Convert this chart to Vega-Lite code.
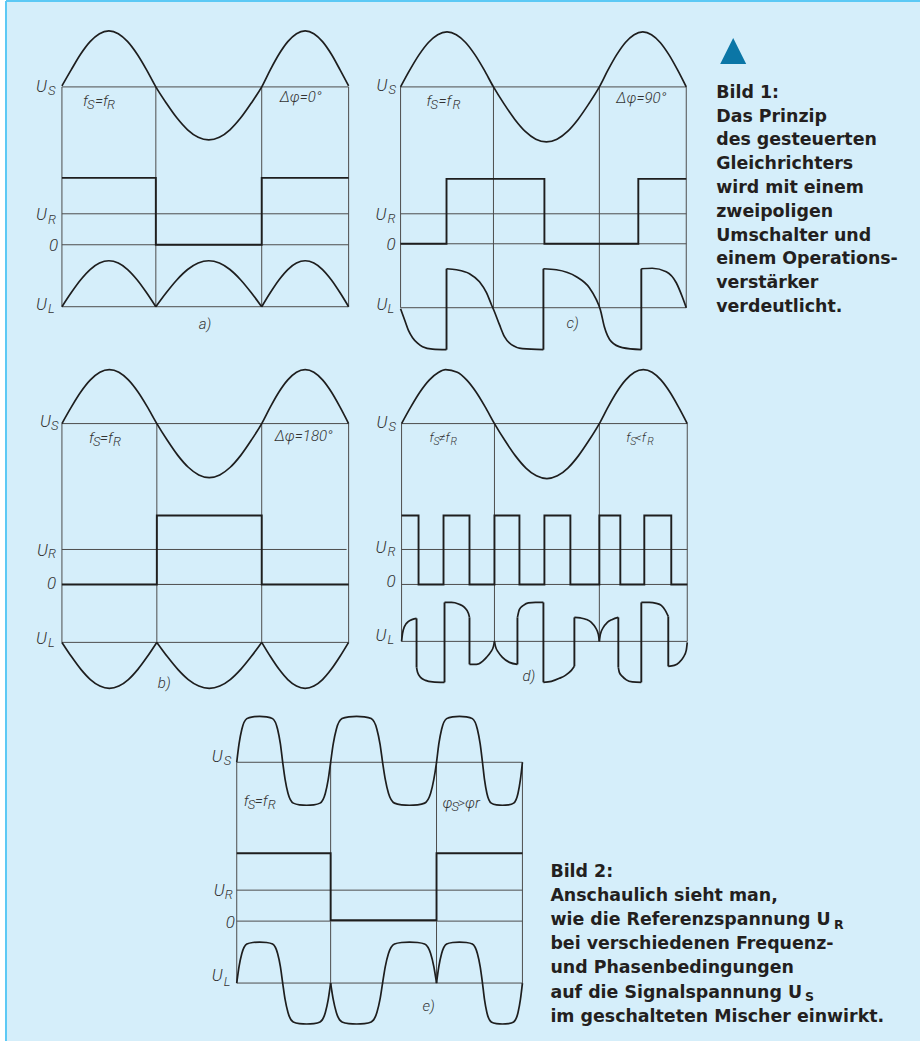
{
"$schema":"https://vega.github.io/schema/vega-lite/v6.json",
"width":921,"height":1042,"padding":0,
"autosize":{"type":"fit","contains":"padding"},
"background":"#ffffff",
"config":{"view":{"stroke":null}},
"datasets":{
"bg":[{"x":6,"y":1,"x2":921,"y2":1042}],
"border":[{"x":6,"y":1,"x2":921,"y2":1},{"x":6,"y":1,"x2":6,"y2":1042}],
"marker":[{"x":734,"y":51}],
"grid":[
{"x":62,"y":87,"x2":62,"y2":307},{"x":156,"y":87,"x2":156,"y2":307},{"x":262,"y":87,"x2":262,"y2":307},{"x":349,"y":87,"x2":349,"y2":307},
{"x":62,"y":87,"x2":349,"y2":87},{"x":62,"y":214,"x2":349,"y2":214},{"x":62,"y":245,"x2":349,"y2":245},{"x":62,"y":307,"x2":349,"y2":307},
{"x":401,"y":87,"x2":401,"y2":308},{"x":494,"y":87,"x2":494,"y2":308},{"x":600,"y":87,"x2":600,"y2":308},{"x":687,"y":87,"x2":687,"y2":308},
{"x":401,"y":87,"x2":687,"y2":87},{"x":401,"y":214,"x2":687,"y2":214},{"x":401,"y":244,"x2":687,"y2":244},{"x":401,"y":308,"x2":687,"y2":308},
{"x":62,"y":424,"x2":62,"y2":643},{"x":157,"y":424,"x2":157,"y2":643},{"x":262,"y":424,"x2":262,"y2":643},{"x":349,"y":424,"x2":349,"y2":643},
{"x":62,"y":424,"x2":349,"y2":424},{"x":62,"y":550,"x2":347,"y2":550},{"x":62,"y":585,"x2":349,"y2":585},{"x":62,"y":643,"x2":349,"y2":643},
{"x":402,"y":424,"x2":402,"y2":642},{"x":495,"y":424,"x2":495,"y2":642},{"x":600,"y":424,"x2":600,"y2":642},{"x":688,"y":424,"x2":688,"y2":642},
{"x":402,"y":424,"x2":688,"y2":424},{"x":402,"y":550,"x2":688,"y2":550},{"x":402,"y":585,"x2":688,"y2":585},{"x":402,"y":642,"x2":688,"y2":642},
{"x":237,"y":763,"x2":237,"y2":984},{"x":331,"y":763,"x2":331,"y2":984},{"x":437,"y":763,"x2":437,"y2":984},{"x":523,"y":763,"x2":523,"y2":984},
{"x":237,"y":763,"x2":523,"y2":763},{"x":237,"y":891,"x2":523,"y2":891},{"x":237,"y":922,"x2":523,"y2":922},{"x":237,"y":984,"x2":523,"y2":984}
],
"straight":[
{"k":"aR","x":62,"y":178},{"k":"aR","x":156,"y":178},{"k":"aR","x":156,"y":245},{"k":"aR","x":262,"y":245},{"k":"aR","x":262,"y":178},{"k":"aR","x":349,"y":178},
{"k":"cR","x":401,"y":244},{"k":"cR","x":447,"y":244},{"k":"cR","x":447,"y":179},{"k":"cR","x":545,"y":179},{"k":"cR","x":545,"y":244},{"k":"cR","x":639,"y":244},{"k":"cR","x":639,"y":179},{"k":"cR","x":687,"y":179},
{"k":"cV1","x":447,"y":350},{"k":"cV1","x":447,"y":269},
{"k":"cV2","x":544,"y":350},{"k":"cV2","x":544,"y":269},
{"k":"cV3","x":642,"y":350},{"k":"cV3","x":642,"y":269},
{"k":"bR","x":62,"y":585},{"k":"bR","x":157,"y":585},{"k":"bR","x":157,"y":516},{"k":"bR","x":262,"y":516},{"k":"bR","x":262,"y":585},{"k":"bR","x":349,"y":585},
{"k":"dR","x":402,"y":516},{"k":"dR","x":419,"y":516},{"k":"dR","x":419,"y":585},{"k":"dR","x":444,"y":585},{"k":"dR","x":444,"y":516},{"k":"dR","x":470,"y":516},{"k":"dR","x":470,"y":585},{"k":"dR","x":495,"y":585},{"k":"dR","x":495,"y":516},{"k":"dR","x":520,"y":516},{"k":"dR","x":520,"y":585},{"k":"dR","x":545,"y":585},{"k":"dR","x":545,"y":516},{"k":"dR","x":571,"y":516},{"k":"dR","x":571,"y":585},{"k":"dR","x":600,"y":585},{"k":"dR","x":600,"y":516},{"k":"dR","x":621,"y":516},{"k":"dR","x":621,"y":585},{"k":"dR","x":645,"y":585},{"k":"dR","x":645,"y":516},{"k":"dR","x":672,"y":516},{"k":"dR","x":672,"y":585},{"k":"dR","x":688,"y":585},
{"k":"dV1","x":417,"y":619},{"k":"dV1","x":417,"y":668},
{"k":"dV2","x":445,"y":683},{"k":"dV2","x":445,"y":603},
{"k":"dV3","x":470,"y":618},{"k":"dV3","x":470,"y":665},
{"k":"dV4","x":518,"y":665},{"k":"dV4","x":518,"y":618},
{"k":"dV5","x":544,"y":603},{"k":"dV5","x":544,"y":683},
{"k":"dV6","x":575,"y":667},{"k":"dV6","x":575,"y":618},
{"k":"dV7","x":619,"y":618},{"k":"dV7","x":619,"y":668},
{"k":"dV8","x":642,"y":683},{"k":"dV8","x":642,"y":603},
{"k":"dV9","x":669,"y":617},{"k":"dV9","x":669,"y":667},
{"k":"eR","x":237,"y":854},{"k":"eR","x":331,"y":854},{"k":"eR","x":331,"y":921},{"k":"eR","x":437,"y":921},{"k":"eR","x":437,"y":854},{"k":"eR","x":523,"y":854}
],
"smooth":[
{"k":"aS","x":62,"y":86},{"k":"aS","x":71.4,"y":69.7},{"k":"aS","x":80.8,"y":54.1},{"k":"aS","x":90.2,"y":41.7},{"k":"aS","x":99.6,"y":33.7},{"k":"aS","x":109,"y":31},{"k":"aS","x":118.4,"y":33.7},{"k":"aS","x":127.8,"y":41.7},{"k":"aS","x":137.2,"y":54.1},{"k":"aS","x":146.6,"y":69.7},{"k":"aS","x":156,"y":87},
{"k":"aS","x":166.6,"y":103.4},{"k":"aS","x":177.2,"y":118.2},{"k":"aS","x":187.8,"y":129.9},{"k":"aS","x":198.4,"y":137.4},{"k":"aS","x":209,"y":140},{"k":"aS","x":219.6,"y":137.4},{"k":"aS","x":230.2,"y":129.9},{"k":"aS","x":240.8,"y":118.2},{"k":"aS","x":251.4,"y":103.4},{"k":"aS","x":262,"y":87},
{"k":"aS","x":270.7,"y":69.7},{"k":"aS","x":279.4,"y":54.1},{"k":"aS","x":288.1,"y":41.7},{"k":"aS","x":296.8,"y":33.7},{"k":"aS","x":305.5,"y":31},{"k":"aS","x":314.2,"y":33.7},{"k":"aS","x":322.9,"y":41.7},{"k":"aS","x":331.6,"y":54.1},{"k":"aS","x":340.3,"y":69.7},{"k":"aS","x":349,"y":86},
{"k":"aL1","x":62,"y":307},{"k":"aL1","x":71.4,"y":292.8},{"k":"aL1","x":80.8,"y":280},{"k":"aL1","x":90.2,"y":269.8},{"k":"aL1","x":99.6,"y":263.3},{"k":"aL1","x":109,"y":261},{"k":"aL1","x":118.4,"y":263.3},{"k":"aL1","x":127.8,"y":269.8},{"k":"aL1","x":137.2,"y":280},{"k":"aL1","x":146.6,"y":292.8},{"k":"aL1","x":156,"y":307},
{"k":"aL2","x":156,"y":307},{"k":"aL2","x":166.6,"y":292.8},{"k":"aL2","x":177.2,"y":280},{"k":"aL2","x":187.8,"y":269.8},{"k":"aL2","x":198.4,"y":263.3},{"k":"aL2","x":209,"y":261},{"k":"aL2","x":219.6,"y":263.3},{"k":"aL2","x":230.2,"y":269.8},{"k":"aL2","x":240.8,"y":280},{"k":"aL2","x":251.4,"y":292.8},{"k":"aL2","x":262,"y":307},
{"k":"aL3","x":262,"y":307},{"k":"aL3","x":270.7,"y":292.8},{"k":"aL3","x":279.4,"y":280},{"k":"aL3","x":288.1,"y":269.8},{"k":"aL3","x":296.8,"y":263.3},{"k":"aL3","x":305.5,"y":261},{"k":"aL3","x":314.2,"y":263.3},{"k":"aL3","x":322.9,"y":269.8},{"k":"aL3","x":331.6,"y":280},{"k":"aL3","x":340.3,"y":292.8},{"k":"aL3","x":349,"y":307},
{"k":"cS","x":401,"y":87},{"k":"cS","x":410.3,"y":70},{"k":"cS","x":419.6,"y":54.7},{"k":"cS","x":428.9,"y":42.5},{"k":"cS","x":438.2,"y":34.7},{"k":"cS","x":447.5,"y":32},{"k":"cS","x":456.8,"y":34.7},{"k":"cS","x":466.1,"y":42.5},{"k":"cS","x":475.4,"y":54.7},{"k":"cS","x":484.7,"y":70},{"k":"cS","x":494,"y":87},
{"k":"cS","x":504.6,"y":104},{"k":"cS","x":515.2,"y":119.3},{"k":"cS","x":525.8,"y":131.5},{"k":"cS","x":536.4,"y":139.3},{"k":"cS","x":547,"y":142},{"k":"cS","x":557.6,"y":139.3},{"k":"cS","x":568.2,"y":131.5},{"k":"cS","x":578.8,"y":119.3},{"k":"cS","x":589.4,"y":104},{"k":"cS","x":600,"y":87},
{"k":"cS","x":608.7,"y":70},{"k":"cS","x":617.4,"y":54.7},{"k":"cS","x":626.1,"y":42.5},{"k":"cS","x":634.8,"y":34.7},{"k":"cS","x":643.5,"y":32},{"k":"cS","x":652.2,"y":34.7},{"k":"cS","x":660.9,"y":42.5},{"k":"cS","x":669.6,"y":54.7},{"k":"cS","x":678.3,"y":70},{"k":"cS","x":687,"y":87},
{"k":"cL1","x":401,"y":309},{"k":"cL1","x":405,"y":320},{"k":"cL1","x":409,"y":331},{"k":"cL1","x":413,"y":338},{"k":"cL1","x":418,"y":343.5},{"k":"cL1","x":423,"y":347},{"k":"cL1","x":433,"y":349.5},{"k":"cL1","x":447,"y":350},
{"k":"cL2","x":447,"y":269},{"k":"cL2","x":457,"y":270},{"k":"cL2","x":470,"y":274},{"k":"cL2","x":480,"y":282},{"k":"cL2","x":487,"y":293},{"k":"cL2","x":492,"y":305},{"k":"cL2","x":495,"y":312},{"k":"cL2","x":500,"y":325},{"k":"cL2","x":505,"y":337},{"k":"cL2","x":512,"y":345},{"k":"cL2","x":523,"y":349},{"k":"cL2","x":544,"y":350},
{"k":"cL3","x":544,"y":269},{"k":"cL3","x":557,"y":270},{"k":"cL3","x":577,"y":277},{"k":"cL3","x":590,"y":288},{"k":"cL3","x":597,"y":300},{"k":"cL3","x":601,"y":310},{"k":"cL3","x":605,"y":327},{"k":"cL3","x":612,"y":342},{"k":"cL3","x":623,"y":348},{"k":"cL3","x":642,"y":350},
{"k":"cL4","x":642,"y":269},{"k":"cL4","x":653,"y":268.5},{"k":"cL4","x":667,"y":272},{"k":"cL4","x":677,"y":283},{"k":"cL4","x":683,"y":297},{"k":"cL4","x":687,"y":308},
{"k":"bS","x":62,"y":424},{"k":"bS","x":71.5,"y":407.3},{"k":"bS","x":81,"y":392.2},{"k":"bS","x":90.5,"y":380.3},{"k":"bS","x":100,"y":372.6},{"k":"bS","x":109.5,"y":370},{"k":"bS","x":119,"y":372.6},{"k":"bS","x":128.5,"y":380.3},{"k":"bS","x":138,"y":392.2},{"k":"bS","x":147.5,"y":407.3},{"k":"bS","x":157,"y":424},
{"k":"bS","x":167.5,"y":440.7},{"k":"bS","x":178,"y":455.8},{"k":"bS","x":188.5,"y":467.7},{"k":"bS","x":199,"y":475.4},{"k":"bS","x":209.5,"y":478},{"k":"bS","x":220,"y":475.4},{"k":"bS","x":230.5,"y":467.7},{"k":"bS","x":241,"y":455.8},{"k":"bS","x":251.5,"y":440.7},{"k":"bS","x":262,"y":424},
{"k":"bS","x":270.7,"y":407.3},{"k":"bS","x":279.4,"y":392.2},{"k":"bS","x":288.1,"y":380.3},{"k":"bS","x":296.8,"y":372.6},{"k":"bS","x":305.5,"y":370},{"k":"bS","x":314.2,"y":372.6},{"k":"bS","x":322.9,"y":380.3},{"k":"bS","x":331.6,"y":392.2},{"k":"bS","x":340.3,"y":407.3},{"k":"bS","x":349,"y":424},
{"k":"bL1","x":62,"y":643},{"k":"bL1","x":71.5,"y":657.2},{"k":"bL1","x":81,"y":670},{"k":"bL1","x":90.5,"y":680.2},{"k":"bL1","x":100,"y":686.7},{"k":"bL1","x":109.5,"y":689},{"k":"bL1","x":119,"y":686.7},{"k":"bL1","x":128.5,"y":680.2},{"k":"bL1","x":138,"y":670},{"k":"bL1","x":147.5,"y":657.2},{"k":"bL1","x":157,"y":643},
{"k":"bL2","x":157,"y":643},{"k":"bL2","x":167.5,"y":657.2},{"k":"bL2","x":178,"y":670},{"k":"bL2","x":188.5,"y":680.2},{"k":"bL2","x":199,"y":686.7},{"k":"bL2","x":209.5,"y":689},{"k":"bL2","x":220,"y":686.7},{"k":"bL2","x":230.5,"y":680.2},{"k":"bL2","x":241,"y":670},{"k":"bL2","x":251.5,"y":657.2},{"k":"bL2","x":262,"y":643},
{"k":"bL3","x":262,"y":643},{"k":"bL3","x":270.7,"y":657.2},{"k":"bL3","x":279.4,"y":670},{"k":"bL3","x":288.1,"y":680.2},{"k":"bL3","x":296.8,"y":686.7},{"k":"bL3","x":305.5,"y":689},{"k":"bL3","x":314.2,"y":686.7},{"k":"bL3","x":322.9,"y":680.2},{"k":"bL3","x":331.6,"y":670},{"k":"bL3","x":340.3,"y":657.2},{"k":"bL3","x":349,"y":643},
{"k":"dS","x":402,"y":424},{"k":"dS","x":411.3,"y":407.3},{"k":"dS","x":420.6,"y":392.2},{"k":"dS","x":429.9,"y":380.3},{"k":"dS","x":439.2,"y":372.6},{"k":"dS","x":446,"y":370},{"k":"dS","x":457.8,"y":372.6},{"k":"dS","x":467.1,"y":380.3},{"k":"dS","x":476.4,"y":392.2},{"k":"dS","x":485.7,"y":407.3},{"k":"dS","x":495,"y":424},
{"k":"dS","x":505.5,"y":441},{"k":"dS","x":516,"y":456.3},{"k":"dS","x":526.5,"y":468.5},{"k":"dS","x":537,"y":476.3},{"k":"dS","x":547.5,"y":479},{"k":"dS","x":558,"y":476.3},{"k":"dS","x":568.5,"y":468.5},{"k":"dS","x":579,"y":456.3},{"k":"dS","x":589.5,"y":441},{"k":"dS","x":600,"y":424},
{"k":"dS","x":608.8,"y":407.3},{"k":"dS","x":617.6,"y":392.2},{"k":"dS","x":626.4,"y":380.3},{"k":"dS","x":635.2,"y":372.6},{"k":"dS","x":644,"y":370},{"k":"dS","x":652.8,"y":372.6},{"k":"dS","x":661.6,"y":380.3},{"k":"dS","x":670.4,"y":392.2},{"k":"dS","x":679.2,"y":407.3},{"k":"dS","x":688,"y":424},
{"k":"dQ1","x":402,"y":642},{"k":"dQ1","x":403,"y":634},{"k":"dQ1","x":405,"y":627},{"k":"dQ1","x":409,"y":622},{"k":"dQ1","x":413,"y":620},{"k":"dQ1","x":417,"y":619},
{"k":"dQ2","x":417,"y":668},{"k":"dQ2","x":418,"y":673},{"k":"dQ2","x":421,"y":678},{"k":"dQ2","x":426,"y":681},{"k":"dQ2","x":433,"y":682.5},{"k":"dQ2","x":445,"y":683},
{"k":"dQ3","x":445,"y":603},{"k":"dQ3","x":452,"y":603},{"k":"dQ3","x":459,"y":604.5},{"k":"dQ3","x":465,"y":608},{"k":"dQ3","x":469,"y":614},{"k":"dQ3","x":470,"y":618},
{"k":"dQ4","x":470,"y":665},{"k":"dQ4","x":477,"y":665},{"k":"dQ4","x":483,"y":662},{"k":"dQ4","x":487,"y":658},{"k":"dQ4","x":491,"y":653},{"k":"dQ4","x":494,"y":647},{"k":"dQ4","x":495,"y":642},
{"k":"dQ5","x":495,"y":642},{"k":"dQ5","x":496,"y":647},{"k":"dQ5","x":499,"y":653},{"k":"dQ5","x":503,"y":658},{"k":"dQ5","x":510,"y":663},{"k":"dQ5","x":518,"y":665},
{"k":"dQ6","x":518,"y":618},{"k":"dQ6","x":520,"y":610},{"k":"dQ6","x":524,"y":606},{"k":"dQ6","x":529,"y":603.5},{"k":"dQ6","x":536,"y":603},{"k":"dQ6","x":544,"y":603},
{"k":"dQ7","x":544,"y":683},{"k":"dQ7","x":552,"y":682},{"k":"dQ7","x":560,"y":679},{"k":"dQ7","x":566,"y":676},{"k":"dQ7","x":572,"y":671},{"k":"dQ7","x":575,"y":667},
{"k":"dQ8","x":575,"y":618},{"k":"dQ8","x":581,"y":618.5},{"k":"dQ8","x":587,"y":620},{"k":"dQ8","x":592,"y":623},{"k":"dQ8","x":596,"y":628},{"k":"dQ8","x":599,"y":635},{"k":"dQ8","x":600,"y":642},
{"k":"dQ9","x":600,"y":642},{"k":"dQ9","x":601,"y":635},{"k":"dQ9","x":604,"y":628},{"k":"dQ9","x":608,"y":623},{"k":"dQ9","x":613,"y":620},{"k":"dQ9","x":619,"y":618},
{"k":"dQ10","x":619,"y":668},{"k":"dQ10","x":620,"y":673},{"k":"dQ10","x":623,"y":677},{"k":"dQ10","x":627,"y":680.5},{"k":"dQ10","x":633,"y":682.5},{"k":"dQ10","x":642,"y":683},
{"k":"dQ11","x":642,"y":603},{"k":"dQ11","x":650,"y":603},{"k":"dQ11","x":657,"y":604},{"k":"dQ11","x":662,"y":606},{"k":"dQ11","x":666,"y":611},{"k":"dQ11","x":669,"y":617},
{"k":"dQ12","x":669,"y":667},{"k":"dQ12","x":675,"y":666},{"k":"dQ12","x":680,"y":663},{"k":"dQ12","x":684,"y":658},{"k":"dQ12","x":687,"y":651},{"k":"dQ12","x":688,"y":643},
{"k":"eS","x":237,"y":763},{"k":"eS","x":239.3,"y":744.6},{"k":"eS","x":242.1,"y":729.9},{"k":"eS","x":247.1,"y":719.3},{"k":"eS","x":253.1,"y":717.5},{"k":"eS","x":260,"y":717},{"k":"eS","x":266.9,"y":717.5},{"k":"eS","x":272.9,"y":719.3},{"k":"eS","x":277.9,"y":729.9},{"k":"eS","x":280.7,"y":744.6},{"k":"eS","x":283,"y":763},
{"k":"eS","x":285.4,"y":780.2},{"k":"eS","x":288.3,"y":794},{"k":"eS","x":293.6,"y":803.9},{"k":"eS","x":299.8,"y":805.6},{"k":"eS","x":307,"y":806},{"k":"eS","x":314.2,"y":805.6},{"k":"eS","x":320.4,"y":803.9},{"k":"eS","x":325.7,"y":794},{"k":"eS","x":328.6,"y":780.2},{"k":"eS","x":331,"y":763},
{"k":"eS","x":333.6,"y":744.6},{"k":"eS","x":336.7,"y":729.9},{"k":"eS","x":342.4,"y":719.3},{"k":"eS","x":349.2,"y":717.5},{"k":"eS","x":357,"y":717},{"k":"eS","x":364.8,"y":717.5},{"k":"eS","x":371.6,"y":719.3},{"k":"eS","x":377.3,"y":729.9},{"k":"eS","x":380.4,"y":744.6},{"k":"eS","x":383,"y":763},
{"k":"eS","x":385.7,"y":780.2},{"k":"eS","x":388.9,"y":794},{"k":"eS","x":394.9,"y":803.9},{"k":"eS","x":401.9,"y":805.6},{"k":"eS","x":410,"y":806},{"k":"eS","x":418.1,"y":805.6},{"k":"eS","x":425.1,"y":803.9},{"k":"eS","x":431.1,"y":794},{"k":"eS","x":434.3,"y":780.2},{"k":"eS","x":437,"y":763},
{"k":"eS","x":439.3,"y":744.6},{"k":"eS","x":442.1,"y":729.9},{"k":"eS","x":447.1,"y":719.3},{"k":"eS","x":453.1,"y":717.5},{"k":"eS","x":460,"y":717},{"k":"eS","x":466.9,"y":717.5},{"k":"eS","x":472.9,"y":719.3},{"k":"eS","x":477.9,"y":729.9},{"k":"eS","x":480.7,"y":744.6},{"k":"eS","x":483,"y":763},
{"k":"eS","x":485,"y":780.2},{"k":"eS","x":487.4,"y":794},{"k":"eS","x":491.8,"y":803.9},{"k":"eS","x":497,"y":805.6},{"k":"eS","x":503,"y":806},{"k":"eS","x":509,"y":805.6},{"k":"eS","x":514.2,"y":803.9},{"k":"eS","x":518.6,"y":794},{"k":"eS","x":521,"y":780.2},{"k":"eS","x":523,"y":763},
{"k":"eL1","x":237,"y":984},{"k":"eL1","x":239.3,"y":967.6},{"k":"eL1","x":242.1,"y":954.5},{"k":"eL1","x":247.1,"y":945},{"k":"eL1","x":253.1,"y":943.4},{"k":"eL1","x":260,"y":943},{"k":"eL1","x":266.9,"y":943.4},{"k":"eL1","x":272.9,"y":945},{"k":"eL1","x":277.9,"y":954.5},{"k":"eL1","x":280.7,"y":967.6},{"k":"eL1","x":283,"y":984},
{"k":"eL1","x":285.4,"y":1000.4},{"k":"eL1","x":288.3,"y":1013.5},{"k":"eL1","x":293.6,"y":1023},{"k":"eL1","x":299.8,"y":1024.6},{"k":"eL1","x":307,"y":1025},{"k":"eL1","x":314.2,"y":1024.6},{"k":"eL1","x":320.4,"y":1023},{"k":"eL1","x":325.7,"y":1013.5},{"k":"eL1","x":328.6,"y":1000.4},{"k":"eL1","x":331,"y":984},
{"k":"eL2","x":331,"y":984},{"k":"eL2","x":333.6,"y":1000.4},{"k":"eL2","x":336.7,"y":1013.5},{"k":"eL2","x":342.4,"y":1023},{"k":"eL2","x":349.2,"y":1024.6},{"k":"eL2","x":357,"y":1025},{"k":"eL2","x":364.8,"y":1024.6},{"k":"eL2","x":371.6,"y":1023},{"k":"eL2","x":377.3,"y":1013.5},{"k":"eL2","x":380.4,"y":1000.4},{"k":"eL2","x":383,"y":984},
{"k":"eL2","x":385.7,"y":967.6},{"k":"eL2","x":388.9,"y":954.5},{"k":"eL2","x":394.9,"y":945},{"k":"eL2","x":401.9,"y":943.4},{"k":"eL2","x":410,"y":943},{"k":"eL2","x":418.1,"y":943.4},{"k":"eL2","x":425.1,"y":945},{"k":"eL2","x":431.1,"y":954.5},{"k":"eL2","x":434.3,"y":967.6},{"k":"eL2","x":437,"y":984},
{"k":"eL3","x":437,"y":984},{"k":"eL3","x":439.3,"y":967.6},{"k":"eL3","x":442.1,"y":954.5},{"k":"eL3","x":447.1,"y":945},{"k":"eL3","x":453.1,"y":943.4},{"k":"eL3","x":460,"y":943},{"k":"eL3","x":466.9,"y":943.4},{"k":"eL3","x":472.9,"y":945},{"k":"eL3","x":477.9,"y":954.5},{"k":"eL3","x":480.7,"y":967.6},{"k":"eL3","x":483,"y":984},
{"k":"eL3","x":485,"y":1000.4},{"k":"eL3","x":487.4,"y":1013.5},{"k":"eL3","x":491.8,"y":1023},{"k":"eL3","x":497,"y":1024.6},{"k":"eL3","x":503,"y":1025},{"k":"eL3","x":509,"y":1024.6},{"k":"eL3","x":514.2,"y":1023},{"k":"eL3","x":518.6,"y":1013.5},{"k":"eL3","x":521,"y":1000.4},{"k":"eL3","x":523,"y":984}
],
"labels":[
{"role":"axis","t":"U","x":36,"y":92},{"role":"axis","t":"U","x":36,"y":220},{"role":"axis","t":"0","x":49,"y":251},{"role":"axis","t":"U","x":36,"y":310},
{"role":"axis","t":"U","x":377,"y":91},{"role":"axis","t":"U","x":376,"y":220},{"role":"axis","t":"0","x":387,"y":250},{"role":"axis","t":"U","x":377,"y":310},
{"role":"axis","t":"U","x":40,"y":427},{"role":"axis","t":"U","x":37,"y":557},{"role":"axis","t":"0","x":47,"y":590},{"role":"axis","t":"U","x":36,"y":645},
{"role":"axis","t":"U","x":377,"y":428},{"role":"axis","t":"U","x":376,"y":554},{"role":"axis","t":"0","x":387,"y":588},{"role":"axis","t":"U","x":376,"y":642},
{"role":"axis","t":"U","x":212,"y":763},{"role":"axis","t":"U","x":214,"y":897},{"role":"axis","t":"0","x":226,"y":929},{"role":"axis","t":"U","x":212,"y":982},
{"role":"sub","t":"S","x":48,"y":95},{"role":"sub","t":"R","x":48,"y":224},{"role":"sub","t":"L","x":48,"y":313},
{"role":"sub","t":"S","x":389,"y":94},{"role":"sub","t":"R","x":388,"y":223},{"role":"sub","t":"L","x":388,"y":313},
{"role":"sub","t":"S","x":51,"y":430},{"role":"sub","t":"R","x":48,"y":559},{"role":"sub","t":"L","x":48,"y":648},
{"role":"sub","t":"S","x":389,"y":431},{"role":"sub","t":"R","x":388,"y":557},{"role":"sub","t":"L","x":388,"y":645},
{"role":"sub","t":"S","x":224,"y":766},{"role":"sub","t":"R","x":225,"y":900},{"role":"sub","t":"L","x":224,"y":987},
{"role":"note","t":"f","x":83,"y":106},{"role":"note","t":"=f","x":95,"y":106},{"role":"note","t":"Δφ=0°","x":280,"y":102},
{"role":"note","t":"f","x":427,"y":106},{"role":"note","t":"=f","x":439,"y":106},{"role":"note","t":"Δφ=90°","x":617,"y":103},
{"role":"note","t":"f","x":89,"y":443},{"role":"note","t":"=f","x":100,"y":443},{"role":"note","t":"Δφ=180°","x":275,"y":441},
{"role":"note","t":"f","x":244,"y":807},{"role":"note","t":"=f","x":255,"y":807},{"role":"note","t":"φ","x":443,"y":809},{"role":"note","t":">φr","x":458,"y":809},
{"role":"notesub","t":"S","x":87,"y":109},{"role":"notesub","t":"R","x":107,"y":109},
{"role":"notesub","t":"S","x":431,"y":109},{"role":"notesub","t":"R","x":453,"y":109},
{"role":"notesub","t":"S","x":93,"y":446},{"role":"notesub","t":"R","x":113,"y":446},
{"role":"notesub","t":"S","x":248,"y":810},{"role":"notesub","t":"R","x":268,"y":810},{"role":"notesub","t":"S","x":452,"y":812},
{"role":"small","t":"f","x":430,"y":442},{"role":"small","t":"≠f","x":439,"y":442},{"role":"small","t":"f","x":627,"y":442},{"role":"small","t":"<f","x":636,"y":442},
{"role":"smallsub","t":"S","x":434,"y":445},{"role":"smallsub","t":"R","x":451,"y":445},{"role":"smallsub","t":"S","x":631,"y":445},{"role":"smallsub","t":"R","x":648,"y":445},
{"role":"tag","t":"a)","x":199,"y":329},{"role":"tag","t":"c)","x":567,"y":328},{"role":"tag","t":"b)","x":158,"y":689},{"role":"tag","t":"d)","x":523,"y":682},{"role":"tag","t":"e)","x":423,"y":1012}
],
"caption":[
{"t":"Bild 1:","x":717,"y":98},{"t":"Das Prinzip","x":717,"y":121.8},{"t":"des gesteuerten","x":717,"y":145.6},{"t":"Gleichrichters","x":717,"y":169.4},{"t":"wird mit einem","x":717,"y":193.2},{"t":"zweipoligen","x":717,"y":217},{"t":"Umschalter und","x":717,"y":240.8},{"t":"einem Operations-","x":717,"y":264.6},{"t":"verstärker","x":717,"y":288.4},{"t":"verdeutlicht.","x":717,"y":312.2},
{"t":"Bild 2:","x":551,"y":878},{"t":"Anschaulich sieht man,","x":551,"y":902.1},{"t":"wie die Referenzspannung U","x":551,"y":926.2},{"t":"bei verschiedenen Frequenz-","x":551,"y":950.3},{"t":"und Phasenbedingungen","x":551,"y":974.4},{"t":"auf die Signalspannung U","x":551,"y":998.5},{"t":"im geschalteten Mischer einwirkt.","x":551,"y":1022.6}
],
"capsub":[{"t":"R","x":835,"y":929.5},{"t":"S","x":806,"y":1001.8}]
},
"encoding":{
"x":{"field":"x","type":"quantitative","scale":{"domain":[0,921],"nice":false,"zero":false},"axis":null},
"y":{"field":"y","type":"quantitative","scale":{"domain":[0,1042],"reverse":true,"nice":false,"zero":false},"axis":null}
},
"layer":[
{"data":{"name":"bg"},"mark":{"type":"rect","fill":"#d5eefa","stroke":null},
 "encoding":{"x2":{"field":"x2"},"y2":{"field":"y2"}}},
{"data":{"name":"border"},"mark":{"type":"rule","stroke":"#5cc9f5","strokeWidth":2},
 "encoding":{"x2":{"field":"x2"},"y2":{"field":"y2"}}},
{"data":{"name":"marker"},"mark":{"type":"point","shape":"M0,-1L1,1L-1,1Z","size":676,"filled":true,"fill":"#0b76a6","stroke":null,"opacity":1}},
{"data":{"name":"grid"},"mark":{"type":"rule","stroke":"#4d4d4d","strokeWidth":1},
 "encoding":{"x2":{"field":"x2"},"y2":{"field":"y2"}}},
{"data":{"name":"straight"},"mark":{"type":"line","stroke":"#1e1e1e","strokeWidth":1.9,"strokeJoin":"miter","strokeCap":"butt"},
 "encoding":{"detail":{"field":"k"},"order":{"value":null}}},
{"data":{"name":"smooth"},"mark":{"type":"line","stroke":"#1e1e1e","strokeWidth":1.7,"interpolate":"monotone"},
 "encoding":{"detail":{"field":"k"},"order":{"value":null}}},
{"data":{"name":"labels"},"transform":[{"filter":"datum.role==='axis'"}],
 "mark":{"type":"text","align":"left","baseline":"alphabetic","font":"Roboto","fontStyle":"italic","fontWeight":300,"fontSize":17,"fill":"#333333"},
 "encoding":{"text":{"field":"t"}}},
{"data":{"name":"labels"},"transform":[{"filter":"datum.role==='sub'"}],
 "mark":{"type":"text","align":"left","baseline":"alphabetic","font":"Roboto","fontStyle":"italic","fontWeight":300,"fontSize":13,"fill":"#333333"},
 "encoding":{"text":{"field":"t"}}},
{"data":{"name":"labels"},"transform":[{"filter":"datum.role==='note' || datum.role==='tag'"}],
 "mark":{"type":"text","align":"left","baseline":"alphabetic","font":"Roboto","fontStyle":"italic","fontWeight":300,"fontSize":15,"fill":"#333333"},
 "encoding":{"text":{"field":"t"}}},
{"data":{"name":"labels"},"transform":[{"filter":"datum.role==='notesub'"}],
 "mark":{"type":"text","align":"left","baseline":"alphabetic","font":"Roboto","fontStyle":"italic","fontWeight":300,"fontSize":13,"fill":"#333333"},
 "encoding":{"text":{"field":"t"}}},
{"data":{"name":"labels"},"transform":[{"filter":"datum.role==='small'"}],
 "mark":{"type":"text","align":"left","baseline":"alphabetic","font":"Roboto","fontStyle":"italic","fontWeight":300,"fontSize":13,"fill":"#333333"},
 "encoding":{"text":{"field":"t"}}},
{"data":{"name":"labels"},"transform":[{"filter":"datum.role==='smallsub'"}],
 "mark":{"type":"text","align":"left","baseline":"alphabetic","font":"Roboto","fontStyle":"italic","fontWeight":300,"fontSize":10.5,"fill":"#333333"},
 "encoding":{"text":{"field":"t"}}},
{"data":{"name":"caption"},
 "mark":{"type":"text","align":"left","baseline":"alphabetic","font":"DejaVu Sans","fontWeight":"bold","fontSize":17.4,"fill":"#231f20"},
 "encoding":{"text":{"field":"t"}}},
{"data":{"name":"capsub"},
 "mark":{"type":"text","align":"left","baseline":"alphabetic","font":"DejaVu Sans","fontWeight":"bold","fontSize":12.5,"fill":"#231f20"},
 "encoding":{"text":{"field":"t"}}}
]
}
